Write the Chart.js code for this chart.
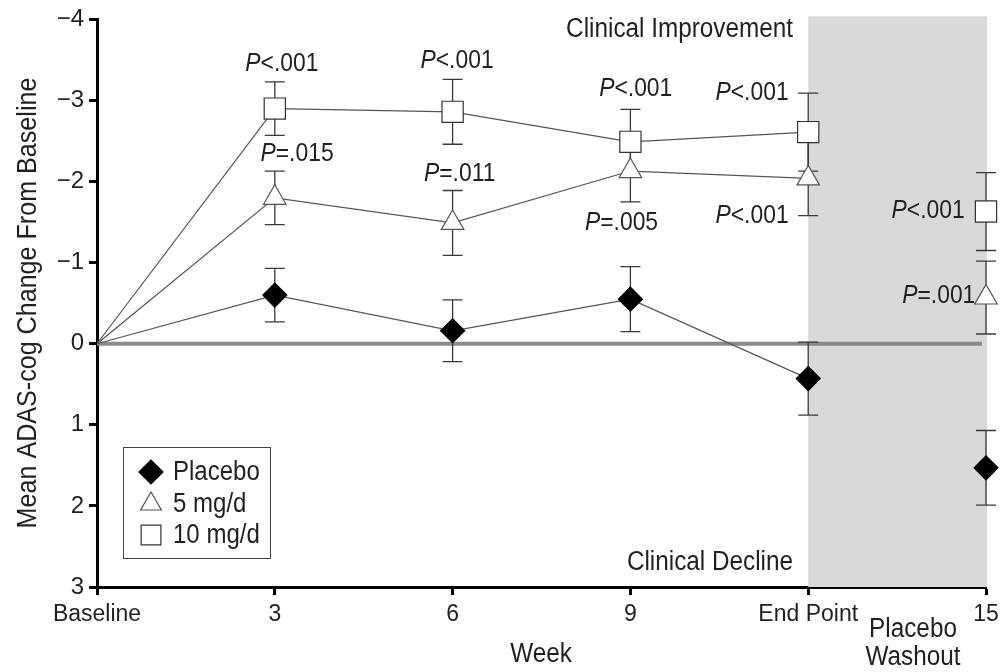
<!DOCTYPE html>
<html>
<head>
<meta charset="utf-8">
<script src="https://cdn.jsdelivr.net/npm/chart.js@4"></script>
<style>
  html, body { margin: 0; padding: 0; background: #fff; }
  #wrap { width: 1005px; height: 672px; position: relative; }
</style>
</head>
<body>
<div id="wrap"><canvas id="chart"></canvas></div>
<script>
// ── data ─────────────────────────────────────────
const weeks = ['Baseline', '3', '6', '9', 'End Point', '15'];

const placebo    = [0, -0.60, -0.16, -0.55, 0.43, 1.53];
const placeboErr = [0, 0.33, 0.38, 0.40, 0.45, 0.46];
const mg5        = [0, -1.80, -1.49, -2.13, -2.04, -0.57];
const mg5Err     = [0, 0.33, 0.40, 0.38, 0.46, 0.45];
const mg10       = [0, -2.90, -2.86, -2.49, -2.61, -1.63];
const mg10Err    = [0, 0.33, 0.40, 0.40, 0.48, 0.48];

// P value labels: x = category index (fractional), y = axis value
const pLabels = [
  { x: 1.04, y: -3.45, op: '<.001', align: 'center' },
  { x: 1.125, y: -2.34, op: '=.015', align: 'center' },
  { x: 2.025, y: -3.49, op: '<.001', align: 'center' },
  { x: 2.04, y: -2.10, op: '=.011', align: 'center' },
  { x: 3.03, y: -3.14, op: '<.001', align: 'center' },
  { x: 2.95, y: -1.49, op: '=.005', align: 'center' },
  { x: 3.89, y: -3.09, op: '<.001', align: 'right' },
  { x: 3.89, y: -1.58, op: '<.001', align: 'right' },
  { x: 4.88, y: -1.64, op: '<.001', align: 'right' },
  { x: 4.94, y: -0.59, op: '=.001', align: 'right' }
];

const FONT = "'Liberation Sans', Arial, sans-serif";
const TXT = '#231f20';
const errs = [placeboErr, mg5Err, mg10Err];

// no connecting segment into the washout point
const washGap = c => c.p1DataIndex === 5 ? 'transparent' : undefined;

const fmtTick = v => v < 0 ? '\u2212' + Math.abs(v) : String(v);

// condensed-looking text: squeeze horizontally
function txt(ctx, s, x, y, align, sx) {
  ctx.save();
  ctx.translate(x, y);
  ctx.scale(sx, 1);
  ctx.textAlign = align;
  ctx.textBaseline = 'middle';
  ctx.fillText(s, 0, 0);
  ctx.restore();
}

function drawP(ctx, lb, px, py) {
  const sx = 0.88;
  ctx.font = 'italic 26px ' + FONT;
  const wP = ctx.measureText('P').width * sx;
  ctx.font = '26px ' + FONT;
  const wR = ctx.measureText(lb.op).width * sx;
  const w = wP + wR;
  const x0 = lb.align === 'right' ? px - w : px - w / 2;
  ctx.fillStyle = TXT;
  ctx.font = 'italic 26px ' + FONT;
  txt(ctx, 'P', x0, py, 'left', sx);
  ctx.font = '26px ' + FONT;
  txt(ctx, lb.op, x0 + wP, py, 'left', sx);
}

const backdrop = {
  id: 'backdrop',
  beforeDatasetsDraw(chart) {
    const { ctx, chartArea: a, scales: { x, y } } = chart;
    ctx.save();
    // washout shading
    const x1 = x.getPixelForValue(4), x2 = x.getPixelForValue(5);
    ctx.fillStyle = '#d9d9d9';
    ctx.fillRect(x1, a.top - 3, x2 - x1 + 1, a.bottom - a.top + 3);
    // zero line
    const y0 = y.getPixelForValue(0);
    ctx.strokeStyle = '#8a8a8a';
    ctx.lineWidth = 4;
    ctx.beginPath();
    ctx.moveTo(a.left, y0);
    ctx.lineTo(x2 - 4, y0);
    ctx.stroke();
    // error bars
    ctx.strokeStyle = '#3a3a3a';
    ctx.lineWidth = 1.3;
    chart.data.datasets.forEach((ds, di) => {
      ds.data.forEach((v, i) => {
        const e = errs[di][i];
        if (!e) return;
        const px = x.getPixelForValue(i);
        const yt = y.getPixelForValue(v - e), yb = y.getPixelForValue(v + e);
        ctx.beginPath();
        ctx.moveTo(px, yt); ctx.lineTo(px, yb);
        ctx.moveTo(px - 10, yt); ctx.lineTo(px + 10, yt);
        ctx.moveTo(px - 10, yb); ctx.lineTo(px + 10, yb);
        ctx.stroke();
      });
    });
    ctx.restore();
  },
  afterDraw(chart) {
    const { ctx, scales: { x, y } } = chart;
    ctx.save();
    ctx.fillStyle = TXT;
    // P labels
    pLabels.forEach(lb => drawP(ctx, lb, x.getPixelForValue(lb.x), y.getPixelForValue(lb.y)));

    // region notes
    ctx.fillStyle = TXT;
    ctx.font = '27px ' + FONT;
    txt(ctx, 'Clinical Improvement', 793, 30, 'right', 0.9);
    txt(ctx, 'Clinical Decline', 793, 563, 'right', 0.9);

    // axis titles
    txt(ctx, 'Week', 541, 655, 'center', 0.9);
    txt(ctx, 'Placebo', 913, 630, 'center', 0.9);
    txt(ctx, 'Washout', 913, 658, 'center', 0.9);
    ctx.save();
    ctx.translate(29, 303);
    ctx.rotate(-Math.PI / 2);
    txt(ctx, 'Mean ADAS-cog Change From Baseline', 0, 0, 'center', 0.93);
    ctx.restore();

    // legend
    ctx.fillStyle = '#fff';
    ctx.fillRect(123, 447, 147, 111);
    ctx.strokeStyle = '#444';
    ctx.lineWidth = 1;
    ctx.strokeRect(123.5, 447.5, 147, 111);
    const rows = [472, 504, 535];
    chart.data.datasets.forEach((ds, i) => {
      ctx.fillStyle = ds.pointBackgroundColor;
      ctx.strokeStyle = ds.pointBorderColor;
      ctx.lineWidth = ds.pointBorderWidth;
      Chart.helpers.drawPoint(ctx, {
        pointStyle: ds.pointStyle, radius: ds.legendRadius, borderWidth: ds.pointBorderWidth
      }, 151, rows[i]);
      ctx.fillStyle = TXT;
      ctx.font = '27px ' + FONT;
      txt(ctx, ds.label, 173, rows[i] + 1, 'left', 0.89);
    });
    ctx.restore();
  }
};

const common = {
  borderColor: '#555',
  borderWidth: 1.2,
  pointBorderWidth: 1.2,
  segment: { borderColor: washGap },
  tension: 0,
  clip: false
};

new Chart(document.getElementById('chart'), {
  type: 'line',
  data: {
    labels: weeks,
    datasets: [
      { ...common, label: 'Placebo', data: placebo, pointStyle: 'rectRot', pointRadius: c => c.dataIndex === 0 ? 0 : 12,
        legendRadius: 12, pointBackgroundColor: '#000', pointBorderColor: '#000' },
      { ...common, label: '5 mg/d', data: mg5, pointStyle: 'triangle', pointRadius: c => c.dataIndex === 0 ? 0 : 13,
        legendRadius: 12, pointBackgroundColor: '#fff', pointBorderColor: '#555' },
      { ...common, label: '10 mg/d', data: mg10, pointStyle: 'rect', pointRadius: c => c.dataIndex === 0 ? 0 : 15,
        legendRadius: 14, pointBackgroundColor: '#fff', pointBorderColor: '#333' }
    ]
  },
  options: {
    responsive: true, maintainAspectRatio: false, animation: false,
    layout: { padding: { top: 19, right: 19, left: 0, bottom: 0 } },
    plugins: { legend: { display: false }, tooltip: { enabled: false } },
    scales: {
      x: {
        type: 'category', offset: false,
        afterFit: s => { s.height = 85; },
        grid: { drawOnChartArea: false, drawTicks: true, tickLength: 8, tickWidth: 3, tickColor: '#000' },
        border: { display: true, width: 3, color: '#000' },
        ticks: { color: TXT, font: { family: FONT, size: 23 }, padding: 6, maxRotation: 0, autoSkip: false }
      },
      y: {
        reverse: true, min: -4, max: 3,
        afterFit: s => { s.width = 97; },
        grid: { drawOnChartArea: false, drawTicks: true, tickLength: 8, tickWidth: 3, tickColor: '#000' },
        border: { display: true, width: 3, color: '#000' },
        ticks: { stepSize: 1, color: TXT, font: { family: FONT, size: 24 }, padding: 5, callback: fmtTick }
      }
    }
  },
  plugins: [backdrop]
});
</script>
</body>
</html>
